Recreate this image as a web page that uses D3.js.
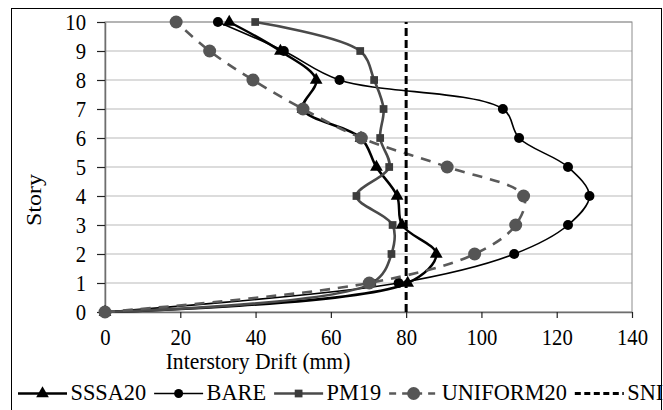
<!DOCTYPE html>
<html>
<head>
<meta charset="utf-8">
<script src="https://cdn.jsdelivr.net/npm/d3@7"></script>
<style>
  html, body { margin: 0; padding: 0; background: #fff; }
  svg { display: block; }
  text { font-family: "Liberation Serif", "Times New Roman", serif; fill: #000; }
</style>
</head>
<body>
<svg id="chart" width="663" height="410"></svg>
<script>
// ---- data ----
const stories   = [0, 1, 2, 3, 4, 5, 6, 7, 8, 9, 10];
const sssa20    = [0, 80.4, 88, 78.9, 77.6, 72.1, 68, 52.6, 56.1, 46.6, 33];
const bare      = [0, 78, 108.7, 123, 128.7, 123, 110, 105.7, 62.3, 47.5, 30];
const pm19      = [0, 71, 76.1, 76.4, 66.8, 75.5, 73.1, 74, 71.5, 67.8, 39.9];
const uniform20 = [0, 70.2, 98.2, 109.1, 111.2, 90.9, 68.1, 52.6, 39.3, 27.8, 18.9];
const sniStories = [0, 10];
const sniDrift   = [80, 80];
const xTicks = [0, 20, 40, 60, 80, 100, 120, 140];
const yTicks = [0, 1, 2, 3, 4, 5, 6, 7, 8, 9, 10];
const seriesNames = ["SSSA20", "BARE", "PM19", "UNIFORM20", "SNI"];
const xTitle = "Interstory Drift (mm)";
const yTitle = "Story";

(function () {
// ---- layout ----
const SX = 0.9;   // horizontal glyph squash of the reference
const SXL = 0.93; // legend squash
const svg = d3.select("#chart");
const pLeft = 105, pRight = 632, pTop = 22, pBottom = 312;
const x = d3.scaleLinear().domain([0, 140]).range([pLeft, pRight]);
const y = d3.scaleLinear().domain([0, 10]).range([pBottom, pTop]);

// outer border
svg.append("rect").attr("x", 11.5).attr("y", 8.5).attr("width", 650).attr("height", 420)
  .attr("fill", "none").attr("stroke", "#000").attr("stroke-width", 1);

// gridlines
svg.append("g").selectAll("line").data(yTicks.filter(d => d > 0)).join("line")
  .attr("x1", pLeft).attr("x2", pRight)
  .attr("y1", d => y(d)).attr("y2", d => y(d))
  .attr("stroke", "#d0d0d0").attr("stroke-width", 1.3);

// plot area border
svg.append("rect").attr("x", pLeft).attr("y", pTop).attr("width", pRight - pLeft).attr("height", pBottom - pTop)
  .attr("fill", "none").attr("stroke", "#8c8c8c").attr("stroke-width", 1);

// axes
const yAxis = svg.append("g").attr("transform", `translate(${pLeft},0)`)
  .call(d3.axisLeft(y).tickValues(yTicks).tickFormat(d3.format("d")).tickSize(8).tickSizeOuter(0));
yAxis.select(".domain").attr("stroke", "#6e6e6e").attr("stroke-width", 1.5);
yAxis.selectAll(".tick line").attr("stroke", "#222").attr("stroke-width", 1.2);
yAxis.selectAll(".tick text").attr("x", -19 / SX).attr("transform", `scale(${SX},1)`)
  .style("font-size", "23px").style("font-family", "Liberation Serif").attr("fill", "#000");

const xAxis = svg.append("g").attr("transform", `translate(0,${pBottom})`)
  .call(d3.axisBottom(x).tickValues(xTicks).tickFormat(d3.format("d")).tickSize(6).tickSizeOuter(0));
xAxis.select(".domain").attr("stroke", "#6e6e6e").attr("stroke-width", 1.5);
xAxis.selectAll(".tick line").attr("stroke", "#222").attr("stroke-width", 1.2);
xAxis.selectAll(".tick text").attr("y", 33).attr("dy", 0).attr("transform", `scale(${SX},1)`)
  .style("font-size", "23px").style("font-family", "Liberation Serif").attr("fill", "#000");

// axis titles
svg.append("text").attr("transform", `translate(258,369) scale(${SX},1)`)
  .attr("text-anchor", "middle").style("font-size", "24px").text(xTitle);
svg.append("text").attr("transform", `translate(41,200) scale(${SX},1) rotate(-90)`)
  .attr("text-anchor", "middle").style("font-size", "24px").text(yTitle);

// ---- series ----
const curve = d3.curveCatmullRom.alpha(0.5);
const line = d3.line().x(d => x(d[0])).y(d => y(d[1])).curve(curve);
const zip = (vals, st) => vals.map((v, i) => [v, st[i]]);

const tri = d3.symbol().type(d3.symbolTriangle).size(70);
const sq = d3.symbol().type(d3.symbolSquare).size(60);

const styles = [
  { name: "SSSA20", data: sssa20, stroke: "#000", width: 2.5, dash: null, marker: "tri", fill: "#000" },
  { name: "BARE", data: bare, stroke: "#000", width: 1.6, dash: null, marker: "circle", r: 5, fill: "#000" },
  { name: "PM19", data: pm19, stroke: "#4a4a4a", width: 2.6, dash: null, marker: "sq", fill: "#3c3c3c" },
  { name: "UNIFORM20", data: uniform20, stroke: "#5a5a5a", width: 2.6, dash: "10,8", marker: "circle", r: 6.5, fill: "#555" }
];

function drawMarker(g, s, cx, cy) {
  if (s.marker === "tri") {
    g.append("path").attr("d", tri).attr("transform", `translate(${cx},${cy})`).attr("fill", s.fill);
  } else if (s.marker === "sq") {
    g.append("path").attr("d", sq).attr("transform", `translate(${cx},${cy})`).attr("fill", s.fill);
  } else {
    g.append("circle").attr("cx", cx).attr("cy", cy).attr("r", s.r).attr("fill", s.fill);
  }
}

styles.forEach(s => {
  const pts = zip(s.data, stories);
  const g = svg.append("g");
  g.append("path").attr("d", line(pts)).attr("fill", "none")
    .attr("stroke", s.stroke).attr("stroke-width", s.width)
    .attr("stroke-dasharray", s.dash);
  pts.forEach(p => drawMarker(g, s, x(p[0]), y(p[1])));
});

// SNI limit line
svg.append("path")
  .attr("d", d3.line().x(d => x(d[0])).y(d => y(d[1]))(zip(sniDrift, sniStories)))
  .attr("stroke", "#000").attr("stroke-width", 3).attr("stroke-dasharray", "8,4").attr("fill", "none");

// ---- legend ----
const legendStyles = [
  styles[0], styles[1], styles[2], styles[3],
  { name: "SNI", stroke: "#000", width: 3, dash: "6,3.5", marker: null }
];
const lg = svg.append("g");
let lx = 18;
const ly = 393.5, base = 400;
legendStyles.forEach((s, i) => {
  const w = 49;
  lg.append("line").attr("x1", lx).attr("x2", lx + w).attr("y1", ly).attr("y2", ly)
    .attr("stroke", s.stroke).attr("stroke-width", s.width).attr("stroke-dasharray", s.dash ? (s.name === "SNI" ? s.dash : "7,6") : null);
  if (s.marker) {
    const ms = Object.assign({}, s, { r: s.marker === "circle" ? (s.name === "BARE" ? 4.5 : 6.5) : s.r });
    drawMarker(lg, ms, lx + w / 2, ly);
  }
  const t = lg.append("text").attr("transform", `translate(${lx + w + 3.5},${base}) scale(${SXL},1)`)
    .style("font-size", "24px").text(seriesNames[i]);
  const tw = t.node().getComputedTextLength() * SXL;
  lx += w + 3.5 + tw + 8;
});
})();
</script>
</body>
</html>
